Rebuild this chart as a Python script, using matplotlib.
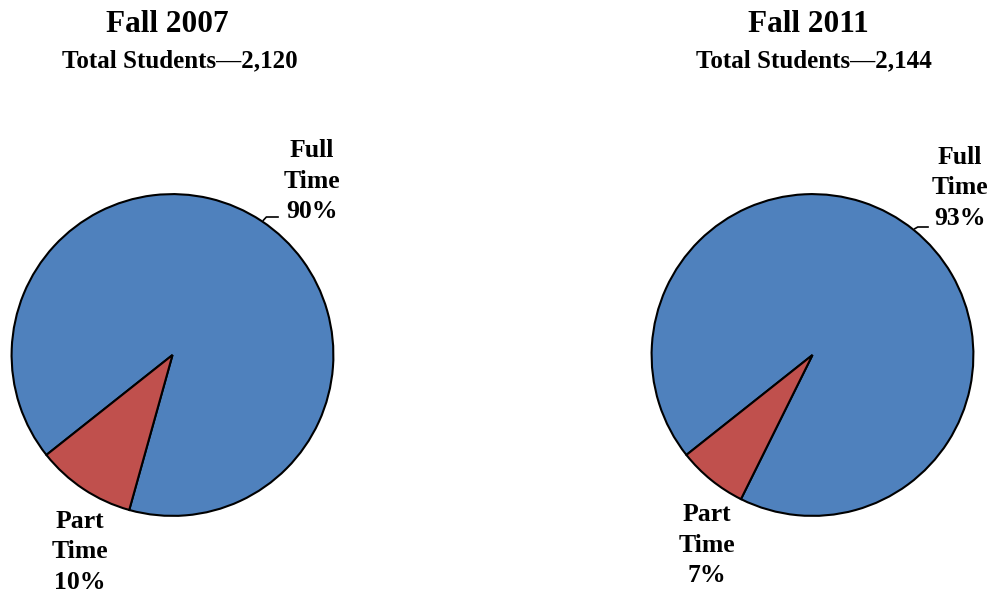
import numpy as np
import matplotlib
matplotlib.use("Agg")
from matplotlib import pyplot as plt
from matplotlib.lines import Line2D

plt.rcParams['font.family'] = ['Liberation Serif', 'DejaVu Serif']
plt.rcParams['font.weight'] = 'bold'

terms = ["Fall 2007", "Fall 2011"]
totals = ["2,120", "2,144"]
full_pct = [90, 93]
part_pct = [10, 7]

blue = "#4F81BD"
red = "#C0504D"

W, H = 991, 594
fig = plt.figure(figsize=(W / 100, H / 100), dpi=100)

# pie centres / radius in pixels
centres = [(172.5, 355), (812.5, 355)]
R = 162.5
title_x = [167, 808]
sub_x = [180, 814]
full_lbl = [(312, 181), (960, 188)]
full_tick = [(56, 278, 217), (51, 928, 227)]
part_lbl = [(80, 552), (707, 545)]

def px(x, y):
    return x / W, 1 - y / H

for i in range(2):
    cx, cy = centres[i]
    ax = fig.add_axes([(cx - R) / W, (H - cy - R) / H, 2 * R / W, 2 * R / H])
    ax.pie([full_pct[i], part_pct[i]], colors=[blue, red], startangle=218.4,
           counterclock=False, radius=1,
           wedgeprops=dict(edgecolor="black", linewidth=1.5))
    ax.set_xlim(-1.01, 1.01)
    ax.set_ylim(-1.01, 1.01)
    ax.set_aspect("auto")
    ax.axis("off")

    fig.text(*px(title_x[i], 24), terms[i], ha="center", va="center", fontsize=22.5)
    fig.text(*px(sub_x[i], 61), "Total Students\u2014" + totals[i],
             ha="center", va="center", fontsize=18)

    lx, ly = full_lbl[i]
    fig.text(*px(lx, ly), "Full\nTime\n%d%%" % full_pct[i], ha="center",
             va="center", fontsize=18.5, linespacing=1.4)
    lx, ly = part_lbl[i]
    fig.text(*px(lx, ly), "Part\nTime\n%d%%" % part_pct[i], ha="center",
             va="center", fontsize=18.5, linespacing=1.4)

    # leader line from the full-time wedge edge to its label
    ang, tx, ty = full_tick[i]
    ex = cx + R * np.cos(np.radians(ang))
    ey = cy - R * np.sin(np.radians(ang))
    xs = [ex, ex + 3, tx]
    ys = [ey, ty, ty]
    fig.add_artist(Line2D([x / W for x in xs], [1 - y / H for y in ys],
                          color="black", linewidth=1.2))

fig.savefig("out.png", dpi=100, facecolor="white")
